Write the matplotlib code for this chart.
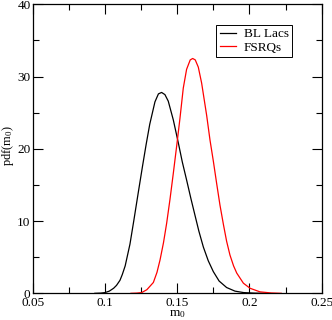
import matplotlib
matplotlib.use("Agg")
import matplotlib.pyplot as plt
from matplotlib.ticker import MultipleLocator, FuncFormatter

plt.rcParams['font.family'] = ['Liberation Serif', 'DejaVu Serif']
plt.rcParams['mathtext.fontset'] = 'custom'
plt.rcParams['mathtext.rm'] = 'Liberation Serif'
plt.rcParams['mathtext.it'] = 'Liberation Serif'

# values
bl_x = [0.093, 0.097, 0.100, 0.103, 0.106, 0.108, 0.1104, 0.112, 0.114, 0.1173,
        0.120, 0.1231, 0.126, 0.1285, 0.131, 0.1346, 0.137, 0.1392, 0.1415, 0.1438,
        0.1473, 0.1508, 0.1535, 0.1566, 0.1595, 0.1623, 0.165, 0.1681, 0.1715, 0.175,
        0.179, 0.1842, 0.190, 0.196, 0.203, 0.210]
bl_pdf = [0.0, 0.03, 0.1, 0.3, 0.7, 1.1, 1.8, 2.6, 3.8, 6.8,
          10.1, 14.0, 17.6, 20.6, 23.4, 26.5, 27.6, 27.8, 27.5, 26.6,
          24.0, 20.8, 18.2, 15.6, 13.1, 10.8, 8.6, 6.4, 4.5, 3.0,
          1.7, 0.8, 0.3, 0.1, 0.03, 0.0]

fsrq_x = [0.118, 0.122, 0.1254, 0.129, 0.1335, 0.136, 0.1381, 0.1405, 0.1427, 0.145,
          0.1473, 0.1497, 0.1519, 0.1542, 0.1565, 0.159, 0.1607, 0.1625, 0.1646, 0.1669,
          0.1704, 0.1727, 0.175, 0.1773, 0.1796, 0.182, 0.1842, 0.1865, 0.189, 0.1912,
          0.1958, 0.2004, 0.2073, 0.215, 0.222]
fsrq_pdf = [0.0, 0.03, 0.1, 0.5, 1.5, 2.9, 4.6, 7.0, 9.7, 13.0,
            16.6, 20.5, 24.2, 28.4, 31.0, 32.3, 32.5, 32.3, 31.3, 29.1,
            24.6, 21.2, 18.3, 15.2, 12.2, 9.5, 7.2, 5.3, 3.8, 2.8,
            1.4, 0.7, 0.2, 0.05, 0.0]

fig = plt.figure(figsize=(3.32, 3.20), dpi=100)
ax = fig.add_axes([0.0985, 0.0834, 0.8705, 0.9032])

ax.plot(bl_x, bl_pdf, color='black', lw=0.9, label='BL Lacs')
ax.plot(fsrq_x, fsrq_pdf, color='red', lw=0.9, label='FSRQs')

ax.set_xlim(0.05, 0.25)
ax.set_ylim(0, 40)
ax.xaxis.set_major_locator(MultipleLocator(0.05))
ax.xaxis.set_minor_locator(MultipleLocator(0.025))
ax.yaxis.set_major_locator(MultipleLocator(10))
ax.yaxis.set_minor_locator(MultipleLocator(5))
ax.xaxis.set_major_formatter(FuncFormatter(lambda v, p: '%g' % round(v, 3)))
ax.tick_params(which='both', direction='in', top=True, right=True, labelsize=9.5, width=0.8)
ax.tick_params(axis='y', pad=1.5)
ax.tick_params(axis='x', pad=3)
ax.tick_params(which='major', length=7)
ax.tick_params(which='minor', length=4)
for s in ax.spines.values():
    s.set_linewidth(0.9)

ax.set_xlabel('m$_0$', fontsize=9.5, labelpad=-1)
ax.set_ylabel('pdf(m$_0$)', fontsize=9)
ax.yaxis.set_label_coords(-0.058, 0.511)

leg = ax.legend(loc='upper right', bbox_to_anchor=(0.898, 0.929), fontsize=9.5,
                fancybox=False, edgecolor='black', framealpha=1, handlelength=1.25,
                handletextpad=0.6, borderpad=0.25, labelspacing=0.1, borderaxespad=0)
leg.get_frame().set_linewidth(0.7)

fig.savefig('out.png', dpi=100)
